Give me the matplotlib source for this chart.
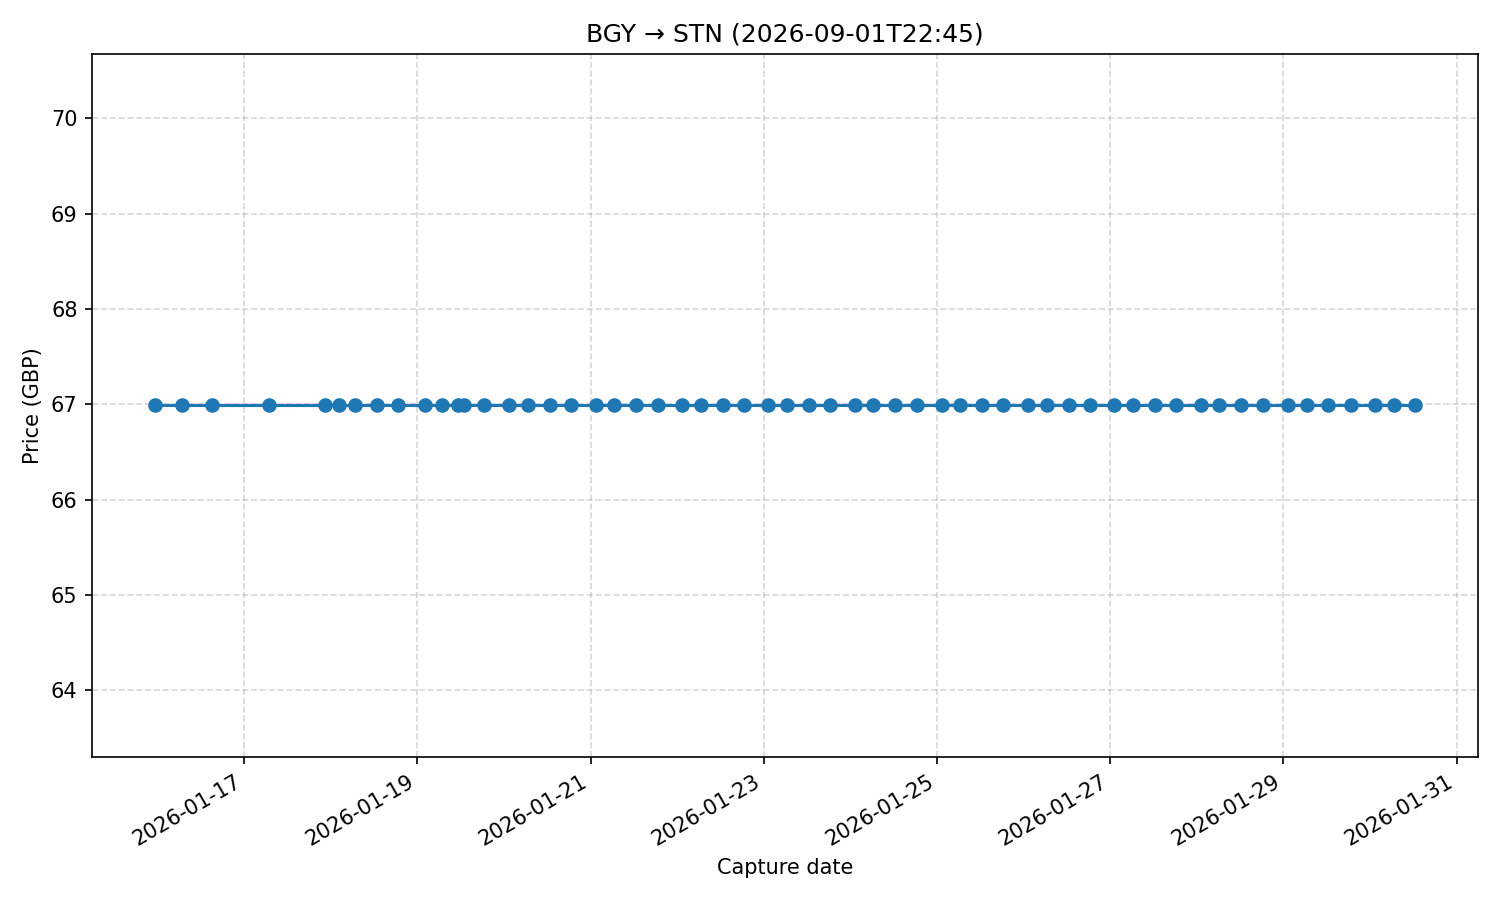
import matplotlib
matplotlib.use("Agg")
import matplotlib.pyplot as plt
import pandas as pd

# -- Data --
capture_times = [
    "2026-01-15 23:18", "2026-01-16 06:48", "2026-01-16 15:07", "2026-01-17 06:56",
    "2026-01-17 22:28", "2026-01-18 02:21", "2026-01-18 06:48", "2026-01-18 12:54",
    "2026-01-18 18:43", "2026-01-19 02:13", "2026-01-19 06:56", "2026-01-19 11:22",
    "2026-01-19 12:46", "2026-01-19 18:19", "2026-01-20 01:15", "2026-01-20 06:31",
    "2026-01-20 12:38", "2026-01-20 18:27", "2026-01-21 01:23", "2026-01-21 06:23",
    "2026-01-21 12:29", "2026-01-21 18:36", "2026-01-22 01:15", "2026-01-22 06:31",
    "2026-01-22 12:38", "2026-01-22 18:27", "2026-01-23 01:06", "2026-01-23 06:23",
    "2026-01-23 12:29", "2026-01-23 18:18", "2026-01-24 01:15", "2026-01-24 06:14",
    "2026-01-24 12:20", "2026-01-24 18:27", "2026-01-25 01:23", "2026-01-25 06:23",
    "2026-01-25 12:29", "2026-01-25 18:18", "2026-01-26 01:15", "2026-01-26 06:31",
    "2026-01-26 12:38", "2026-01-26 18:27", "2026-01-27 01:06", "2026-01-27 06:23",
    "2026-01-27 12:29", "2026-01-27 18:18", "2026-01-28 01:15", "2026-01-28 06:14",
    "2026-01-28 12:20", "2026-01-28 18:27", "2026-01-29 01:23", "2026-01-29 06:39",
    "2026-01-29 12:29", "2026-01-29 18:36", "2026-01-30 01:15", "2026-01-30 06:31",
    "2026-01-30 12:20",
]
prices = [66.99] * len(capture_times)

route_title = "BGY \u2192 STN (2026-09-01T22:45)"

dates = pd.to_datetime(capture_times)

fig, ax = plt.subplots(figsize=(10, 6), dpi=150)
ax.plot(dates, prices, marker="o")
ax.set_title(route_title)
ax.set_xlabel("Capture date")
ax.set_ylabel("Price (GBP)")
ax.grid(True, linestyle="--", alpha=0.5)
fig.autofmt_xdate()

plt.tight_layout()
plt.savefig("out.png", dpi=150)
plt.close()
